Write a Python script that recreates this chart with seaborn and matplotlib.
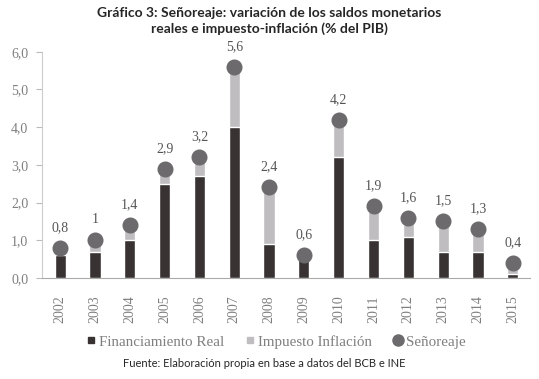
import matplotlib
matplotlib.use("Agg")
import matplotlib.pyplot as plt
import seaborn as sns
import pandas as pd
from matplotlib.lines import Line2D

# data (% del PIB)
years = ["2002", "2003", "2004", "2005", "2006", "2007", "2008",
         "2009", "2010", "2011", "2012", "2013", "2014", "2015"]
financiamiento_real = [0.6, 0.7, 1.0, 2.5, 2.7, 4.0, 0.9,
                       0.5, 3.2, 1.0, 1.1, 0.7, 0.7, 0.1]
impuesto_inflacion = [0.2, 0.3, 0.4, 0.4, 0.5, 1.6, 1.5,
                      0.1, 1.0, 0.9, 0.5, 0.8, 0.6, 0.3]
senoreaje = [0.8, 1.0, 1.4, 2.9, 3.2, 5.6, 2.4,
             0.6, 4.2, 1.9, 1.6, 1.5, 1.3, 0.4]
senoreaje_labels = ["0,8", "1", "1,4", "2,9", "3,2", "5,6", "2,4",
                    "0,6", "4,2", "1,9", "1,6", "1,5", "1,3", "0,4"]
yticks = [0, 1, 2, 3, 4, 5, 6]
ytick_labels = ["0,0", "1,0", "2,0", "3,0", "4,0", "5,0", "6,0"]

DARK = "#383232"
LIGHT = "#bfbdc0"
DOT = "#6d6a6d"
TXT = "#7f7f7f"

df = pd.DataFrame({
    "year": years,
    "real": financiamiento_real,
    "inflacion": impuesto_inflacion,
    "senoreaje": senoreaje,
})
df["stack"] = df["real"] + df["inflacion"]

sns.set_style("white")
plt.rcParams["font.family"] = ["Liberation Serif", "DejaVu Serif"]

fig = plt.figure(figsize=(5.39, 3.79), dpi=100)
ax = fig.add_axes([0.078, 0.2665, 0.905, 0.597])

# stacked bars: light (total) behind, dark in front
sns.barplot(data=df, x="year", y="stack", color=LIGHT, width=0.32,
            saturation=1, ax=ax, zorder=2)
sns.barplot(data=df, x="year", y="real", color=DARK, width=0.32,
            saturation=1, ax=ax, zorder=3)
# señoreaje dots
sns.pointplot(data=df, x="year", y="senoreaje", color=DOT, linestyle="none",
              markers="o", markersize=9.5, ax=ax, zorder=4)
for c in ax.collections + ax.lines:
    c.set_clip_on(False)
    c.set_zorder(4)

for i, (v, lab) in enumerate(zip(senoreaje, senoreaje_labels)):
    ax.annotate(lab, (i, v), xytext=(0, 10), textcoords="offset points",
                ha="center", va="bottom", fontsize=10, color="#555555")

ax.set_xlim(-0.52, 13.49)
ax.set_ylim(0, 6)
ax.set_yticks(yticks)
ax.set_yticklabels(ytick_labels, fontsize=10, color=TXT)
ax.tick_params(axis="y", left=True, length=4, width=0.8, color="#bbbbbb", pad=6)
ax.tick_params(axis="x", bottom=False, labelsize=10, labelcolor=TXT, pad=9)
plt.setp(ax.get_xticklabels(), rotation=90)
ax.set_xlabel("")
ax.set_ylabel("")
sns.despine(ax=ax)
ax.spines["left"].set_color("#cccccc")
ax.spines["bottom"].set_color("#aaaaaa")

fig.text(0.5, 0.965, "Gráfico 3: Señoreaje: variación de los saldos monetarios",
         ha="center", va="center", fontsize=10, fontweight="bold",
         family=["Lato", "DejaVu Sans"])
fig.text(0.5, 0.925, "reales e impuesto-inflación (% del PIB)",
         ha="center", va="center", fontsize=10, fontweight="bold",
         family=["Lato", "DejaVu Sans"])

handles = [
    Line2D([], [], marker="s", linestyle="none", color=DARK, markersize=4.5),
    Line2D([], [], marker="s", linestyle="none", color=LIGHT, markersize=4.5),
    Line2D([], [], marker="o", linestyle="none", color=DOT, markersize=8),
]
fig.legend(handles, ["Financiamiento Real", "Impuesto Inflación", "Señoreaje"],
           loc="center", bbox_to_anchor=(0.512, 0.098), ncol=3, frameon=False,
           prop={"family": ["Liberation Serif", "DejaVu Serif"], "size": 10.8},
           labelcolor=TXT, handlelength=0.6,
           handletextpad=0.25, columnspacing=1.4)

fig.text(0.49, 0.04, "Fuente: Elaboración propia en base a datos del BCB e INE",
         ha="center", va="center", fontsize=8, family=["Lato", "DejaVu Sans"])

fig.savefig("out.png", dpi=100)
